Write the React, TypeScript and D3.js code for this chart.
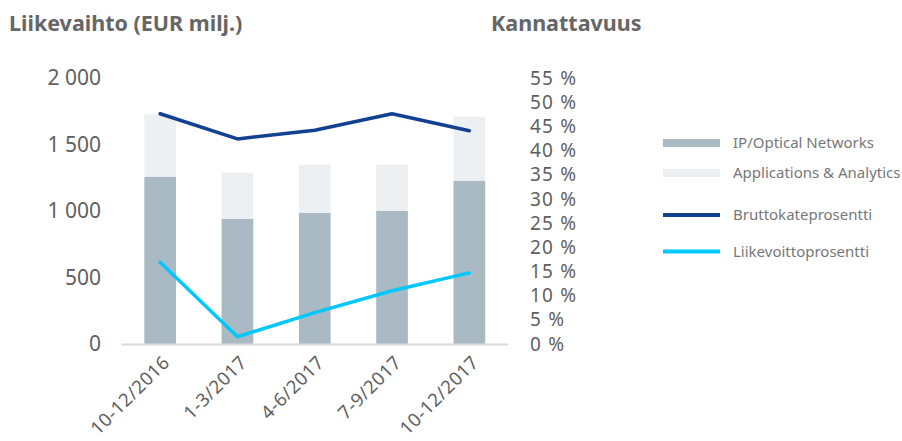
import React from "react";
import * as d3 from "d3";

const categories = ["10-12/2016", "1-3/2017", "4-6/2017", "7-9/2017", "10-12/2017"];
const ipOptical = [1258, 942, 987, 1002, 1228];
const applications = [469, 346, 361, 346, 481];
const bruttokate = [47.6, 42.4, 44.2, 47.6, 44.1];
const liikevoitto = [16.9, 1.5, 6.5, 11.0, 14.7];
const leftTicks = [0, 500, 1000, 1500, 2000];
const rightTicks = [0, 5, 10, 15, 20, 25, 30, 35, 40, 45, 50, 55];

const FONT = "'Noto Sans', 'Open Sans', sans-serif";
const TEXT = "#5f5f5f";
const C_IP = "#a9bac4";
const C_APP = "#edf0f3";
const C_BRUTTO = "#124191";
const C_LIIKE = "#00c8ff";

const fmt = (v: number) => (v >= 1000 ? `${Math.floor(v / 1000)} ${String(v % 1000).padStart(3, "0")}` : String(v));

export default function App() {
  const W = 902, H = 441;
  const x = d3.scaleBand<string>().domain(categories).range([121.5, 508]).paddingInner(0.59).paddingOuter(0.295);
  const yL = d3.scaleLinear().domain([0, 2000]).range([344, 78]);
  const yR = d3.scaleLinear().domain([0, 55]).range([344, 78]);
  const cx = (c: string) => (x(c) ?? 0) + x.bandwidth() / 2;
  const line = d3.line<number>().x((_, i) => cx(categories[i])).y((d) => yR(d));

  const legend = [
    { label: "IP/Optical Networks", type: "bar", color: C_IP, y: 143 },
    { label: "Applications & Analytics", type: "bar", color: C_APP, y: 173 },
    { label: "Bruttokateprosentti", type: "line", color: C_BRUTTO, y: 215 },
    { label: "Liikevoittoprosentti", type: "line", color: C_LIIKE, y: 251.5 },
  ];

  return (
    <svg width={W} height={H} style={{ position: "absolute", left: 0, top: 0, fontFamily: FONT }}>
      <rect width={W} height={H} fill="#fff" />
      <text x={9} y={31} fontSize={21.5} fontWeight={700} fill="#666">Liikevaihto (EUR milj.)</text>
      <text x={491} y={31} fontSize={21.5} fontWeight={700} fill="#666">Kannattavuus</text>

      {leftTicks.map((t) => (
        <text key={t} x={101} y={yL(t)} dy="0.35em" textAnchor="end" fontSize={21} fill={TEXT}>{fmt(t)}</text>
      ))}
      {rightTicks.map((t) => (
        <text key={t} x={530} y={yR(t)} dy="0.35em" textAnchor="start" fontSize={19} letterSpacing={1.2} fill={TEXT}>{`${t} %`}</text>
      ))}

      {categories.map((c, i) => (
        <g key={c}>
          <rect x={x(c)} y={yL(ipOptical[i])} width={x.bandwidth()} height={yL(0) - yL(ipOptical[i])} fill={C_IP} />
          <rect x={x(c)} y={yL(ipOptical[i] + applications[i])} width={x.bandwidth()} height={yL(ipOptical[i]) - yL(ipOptical[i] + applications[i])} fill={C_APP} />
        </g>
      ))}
      <line x1={121.5} x2={508} y1={344.5} y2={344.5} stroke="#d9d9d9" strokeWidth={2} />

      <path d={line(bruttokate) ?? ""} fill="none" stroke={C_BRUTTO} strokeWidth={3.5} strokeLinejoin="round" strokeLinecap="round" />
      <path d={line(liikevoitto) ?? ""} fill="none" stroke={C_LIIKE} strokeWidth={3.5} strokeLinejoin="round" strokeLinecap="round" />

      {categories.map((c) => (
        <text key={c} transform={`translate(${cx(c) + 6},${359}) rotate(-45)`} textAnchor="end" dy="0.35em" fontSize={18.5} fill={TEXT} letterSpacing={0.5}>{c}</text>
      ))}

      {legend.map((l) => (
        <g key={l.label}>
          {l.type === "bar" ? (
            <rect x={663} y={l.y - 4} width={57} height={8} fill={l.color} />
          ) : (
            <line x1={663} x2={720} y1={l.y} y2={l.y} stroke={l.color} strokeWidth={4} />
          )}
          <text x={733} y={l.y} dy="0.35em" fontSize={15} fill="#777">{l.label}</text>
        </g>
      ))}
    </svg>
  );
}
